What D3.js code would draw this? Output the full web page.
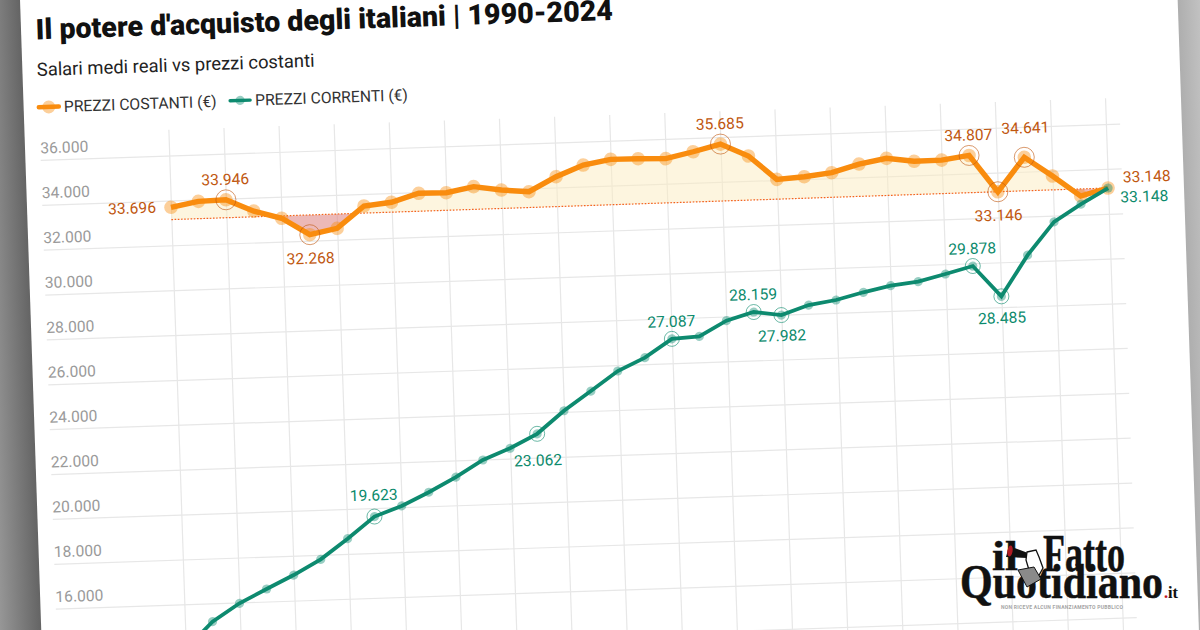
<!DOCTYPE html>
<html>
<head>
<meta charset="utf-8">
<script src="https://cdn.jsdelivr.net/npm/d3@7"></script>
<style>
  html, body { margin: 0; padding: 0; background: #fff; overflow: hidden; }
  svg { display: block; }
  text { font-family: Roboto, sans-serif; }
  .grid line { stroke: #e7e7e7; stroke-width: 1.2; }
  .grid path { display: none; }
  .grid text { fill: #9a9a9a; font-size: 15.6px; }
</style>
</head>
<body>
<svg id="chart" width="1200" height="630"></svg>
<script>
var years = d3.range(1990, 2025);

var costanti = [33696, 33920, 33946, 33400, 33040, 32268, 32510, 33465, 33590, 33947,
                33933, 34160, 33969, 33853, 34481, 34958, 35171, 35158, 35118, 35385,
                35685, 35114, 34031, 34107, 34245, 34588, 34802, 34628, 34641, 34807,
                33146, 34641, 33764, 32830, 33148];

var correnti = [14010, 15185, 15964, 16560, 17140, 17800, 18677, 19623, 20053, 20624,
                21252, 21978, 22459, 23062, 24049, 24886, 25737, 26290, 27087, 27160,
                27813, 28159, 27982, 28388, 28570, 28873, 29127, 29265, 29563, 29878,
                28485, 30281, 31724, 32472, 33148];

var yTicks = [14000, 16000, 18000, 20000, 22000, 24000, 26000, 28000, 30000, 32000, 34000, 36000];
var xTicks = d3.range(1990, 2025, 2);

// years that carry a ring
var ringsCostanti = [1992, 1995, 2010, 2019, 2020, 2021];
var ringsCorrenti = [1997, 2003, 2008, 2011, 2012, 2019, 2020];

// label placement by year, [dx, dy, anchor]
var placeCostanti = {
    1990: [-15, 5, 'end'], 1992: [0, -15, 'middle'], 1995: [0, 29, 'middle'], 2010: [0, -15, 'middle'],
    2019: [0, -15, 'middle'], 2020: [0, 29, 'middle'], 2021: [2, -24, 'middle'], 2024: [15, -5, 'start']
};
var placeCorrenti = {
    1997: [0, -16, 'middle'], 2003: [0, 32, 'middle'], 2008: [0, -12, 'middle'], 2011: [0, -12, 'middle'],
    2012: [0, 26, 'middle'], 2019: [0, -12, 'middle'], 2020: [0, 27, 'middle'], 2024: [12, 15, 'start']
};

var ORANGE = '#f98c0e', GREEN = '#0d8a6f',
    ORANGE_TXT = '#c0570f', GREEN_TXT = '#0b8a6c',
    TILT = -1.93;

var num = d3.formatLocale({decimal: ',', thousands: '.', grouping: [3], currency: ['', '€']}).format(',d');

var svg = d3.select('#chart');
var defs = svg.append('defs');

function gradient (id, stops) {
    var g = defs.append('linearGradient').attr('id', id);
    stops.forEach(function (s) {
        g.append('stop').attr('offset', s[0]).attr('stop-color', s[1]);
    });
}
gradient('shadeLeft', [[0, '#cfcfcf'], [0.35, '#a4a4a4'], [1, '#646464']]);
gradient('shadeRight', [[0, '#aeaeae'], [1, '#dadada']]);

var page = svg.append('g').attr('transform', 'rotate(' + TILT + ')');

page.append('rect').attr('x', -60).attr('y', -60).attr('width', 80).attr('height', 800).attr('fill', 'url(#shadeLeft)');
page.append('rect').attr('x', 1177).attr('y', -60).attr('width', 50).attr('height', 800).attr('fill', 'url(#shadeRight)');

var x = d3.scaleLinear().domain([1990, 2024]).range([163.9, 1101.1]);
var y = d3.scaleLinear().domain([14000, 36000]).range([655.1, 161.2]);

// grid
page.append('g').attr('class', 'grid')
    .attr('transform', 'translate(0,700)')
    .call(d3.axisBottom(x).tickValues(xTicks).tickSize(-564.6).tickFormat(''));

// the 14.000 label falls below the crop, only its line shows
var yAxis = page.append('g').attr('class', 'grid')
    .attr('transform', 'translate(35.3,0)')
    .call(d3.axisLeft(y).tickValues(yTicks).tickSize(-1080)
        .tickFormat(function (d) { return d === 14000 ? '' : num(d); }));
yAxis.selectAll('text')
    .attr('x', 0).attr('y', -7).attr('dy', 0)
    .attr('text-anchor', 'start');

// shaded gap against the 2024 value
var base = costanti[costanti.length - 1];
defs.append('clipPath').attr('id', 'above').append('rect')
    .attr('x', 0).attr('y', 0).attr('width', 1200).attr('height', y(base));
defs.append('clipPath').attr('id', 'below').append('rect')
    .attr('x', 0).attr('y', y(base)).attr('width', 1200).attr('height', 200);

var gap = d3.area()
    .x(function (d, i) { return x(years[i]); })
    .y0(y(base))
    .y1(function (d) { return y(d); });

page.append('path').datum(costanti).attr('d', gap)
    .attr('fill', '#fcebc0').attr('fill-opacity', 0.5).attr('clip-path', 'url(#above)');
page.append('path').datum(costanti).attr('d', gap)
    .attr('fill', '#e08a88').attr('fill-opacity', 0.6).attr('clip-path', 'url(#below)');

page.append('line')
    .attr('x1', x(1990)).attr('x2', x(2024))
    .attr('y1', y(base)).attr('y2', y(base))
    .attr('stroke', '#f4651a').attr('stroke-width', 1.2).attr('stroke-dasharray', '1.6 1.6');

function drawSeries (values, color, txt, width, dotR, ringR, rings, place) {
    var line = d3.line()
        .x(function (d, i) { return x(years[i]); })
        .y(function (d) { return y(d); });

    page.append('g').selectAll('circle').data(values).join('circle')
        .attr('cx', function (d, i) { return x(years[i]); })
        .attr('cy', function (d) { return y(d); })
        .attr('r', dotR)
        .attr('fill', color).attr('fill-opacity', 0.42);

    page.append('path').datum(values).attr('d', line)
        .attr('fill', 'none').attr('stroke', color)
        .attr('stroke-width', width).attr('stroke-linejoin', 'miter');

    rings.forEach(function (yr) {
        page.append('circle')
            .attr('cx', x(yr)).attr('cy', y(values[years.indexOf(yr)])).attr('r', ringR)
            .attr('fill', 'none').attr('stroke', txt).attr('stroke-width', 0.6);
    });

    Object.keys(place).forEach(function (yr) {
        var v = values[years.indexOf(+yr)], p = place[yr];
        page.append('text')
            .attr('x', x(+yr) + p[0]).attr('y', y(v) + p[1])
            .attr('text-anchor', p[2])
            .attr('fill', txt).attr('font-size', 15.6)
            .text(num(v));
    });
}

drawSeries(costanti, ORANGE, ORANGE_TXT, 5.4, 6.8, 10, ringsCostanti, placeCostanti);
drawSeries(correnti, GREEN, GREEN_TXT, 3.8, 4.6, 7.5, ringsCorrenti, placeCorrenti);

// heading
page.append('text').attr('x', 34.7).attr('y', 40.6)
    .attr('font-size', 28.6).attr('font-weight', 900).attr('fill', '#111')
    .text("Il potere d'acquisto degli italiani | 1990-2024");
page.append('text').attr('x', 34.4).attr('y', 77.2)
    .attr('font-size', 18.4).attr('fill', '#222')
    .text('Salari medi reali vs prezzi costanti');

// legend
function legend (lx, label, color, width, r) {
    var g = page.append('g');
    g.append('circle').attr('cx', lx + 10).attr('cy', 108.5).attr('r', r).attr('fill', color).attr('fill-opacity', 0.42);
    g.append('line').attr('x1', lx).attr('x2', lx + 20).attr('y1', 108.5).attr('y2', 108.5)
        .attr('stroke', color).attr('stroke-width', width).attr('stroke-linecap', 'round');
    g.append('text').attr('x', lx + 25).attr('y', 114)
        .attr('font-size', 15.7).attr('fill', '#333').text(label);
}
legend(35.2, 'PREZZI COSTANTI (€)', ORANGE, 4.5, 6.5);
legend(226.6, 'PREZZI CORRENTI (€)', GREEN, 3.4, 4.6);

// masthead, drawn upright on top of the tilted page
var logo = svg.append('g');
var serif = "'Liberation Serif', serif";

function logoText (tx, ty, size, len, s, str) {
    return logo.append('text').attr('x', tx).attr('y', ty)
        .style('font-family', serif).attr('font-weight', 700).attr('font-size', size)
        .attr('textLength', len).attr('lengthAdjust', 'spacingAndGlyphs')
        .attr('fill', '#111').attr('stroke', '#111').attr('stroke-width', s)
        .text(str);
}
logoText(992, 570, 42, 26, 0.5, 'il');
logoText(1043, 571, 53, 82, 0.5, 'Fatto');
logoText(960, 598, 48, 203, 0.5, 'Quotidiano');

var dotIt = logoText(1164, 598, 17, 14, 0.1, '');
dotIt.append('tspan').attr('fill', '#c1121f').attr('stroke', '#c1121f').text('.');
dotIt.append('tspan').text('it');

// megaphone and the little man
logo.append('path').attr('d', 'M1009,546L1028,553L1027,558L1006,557Z').attr('fill', '#111');
logo.append('ellipse').attr('cx', 1010).attr('cy', 551).attr('rx', 2.6).attr('ry', 5.5)
    .attr('transform', 'rotate(10 1010 551)').attr('fill', '#b01c24');
logo.append('path').attr('d', 'M1027,552L1036,550L1039,557L1043,568L1038,577L1029,570L1026,560Z')
    .attr('fill', '#fff').attr('stroke', '#111').attr('stroke-width', 1.3);
logo.append('path').attr('d', 'M1018,570L1034,567L1041,579L1027,587Z')
    .attr('fill', '#8a8a8a').attr('stroke', '#111').attr('stroke-width', 1);

logo.append('text').attr('x', 1001).attr('y', 609)
    .attr('font-size', 5).attr('font-weight', 700).attr('fill', '#a5a5a5')
    .attr('textLength', 122).text('NON RICEVE ALCUN FINANZIAMENTO PUBBLICO');
</script>
</body>
</html>
